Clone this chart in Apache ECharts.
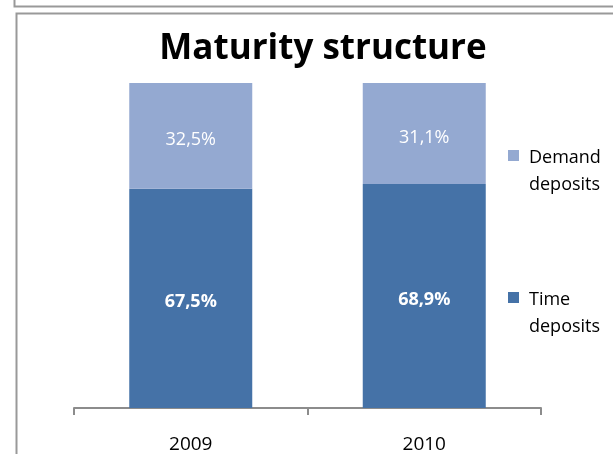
<!DOCTYPE html>
<html><head><meta charset="utf-8">
<script src="https://cdn.jsdelivr.net/npm/echarts@6/dist/echarts.min.js"></script>
<style>html,body{margin:0;padding:0;background:#fff}#c{width:613px;height:454px}</style>
</head><body><div id="c"></div>
<script>
const categories = ['2009', '2010'];
const timeDeposits = [67.5, 68.9];
const demandDeposits = [32.5, 31.1];
const seriesNames = ['Time\ndeposits', 'Demand\ndeposits'];

const fmt = v => v.toFixed(1).replace('.', ',') + '%';
const FONT = '"Open Sans", "Liberation Sans", sans-serif';

const chart = echarts.init(document.getElementById('c'), null, {renderer: 'canvas'});
chart.setOption({
  animation: false,
  backgroundColor: '#fff',
  title: {
    text: 'Maturity structure', left: 318, top: 27, textAlign: 'center',
    textStyle: {fontFamily: FONT, fontSize: 35, fontWeight: 'bold', color: '#000'}
  },
  grid: {left: 74, right: 72, top: 83, bottom: 45, containLabel: false},
  xAxis: {
    type: 'category', data: categories,
    axisLine: {lineStyle: {color: '#8c8c8c', width: 2}},
    axisTick: {show: true, length: 7, lineStyle: {color: '#8c8c8c', width: 2}},
    axisLabel: {color: '#000', fontSize: 19, fontFamily: FONT, margin: 27}
  },
  yAxis: {type: 'value', min: 0, max: 100, show: false, splitLine: {show: false}},
  legend: {show: false},
  series: [
    {name: seriesNames[0], type: 'bar', stack: 's', data: timeDeposits, barWidth: 123,
     itemStyle: {color: '#4572a7'},
     label: {show: true, position: 'inside', formatter: p => fmt(p.value), color: '#fff',
             fontSize: 18, fontWeight: 'bold', fontFamily: FONT, offset: [0, 4]}},
    {name: seriesNames[1], type: 'bar', stack: 's', data: demandDeposits, barWidth: 123,
     itemStyle: {color: '#94a9d1'},
     label: {show: true, position: 'inside', formatter: p => fmt(p.value), color: '#fff',
             fontSize: 18, fontFamily: FONT, offset: [0, 4]}}
  ],
  graphic: [
    {type: 'rect', shape: {x: 14.5, y: -10, width: 640, height: 16.5}, style: {fill: 'none', stroke: '#999', lineWidth: 2}},
    {type: 'rect', shape: {x: 16.5, y: 13.5, width: 640, height: 500}, style: {fill: 'none', stroke: '#999', lineWidth: 2}},
    {type: 'rect', shape: {x: 508, y: 150, width: 11, height: 11}, style: {fill: '#94a9d1'}},
    {type: 'text', x: 529, y: 144, style: {text: 'Demand\ndeposits', fontSize: 18, fontFamily: FONT, fill: '#000', lineHeight: 27}},
    {type: 'rect', shape: {x: 508, y: 292, width: 11, height: 11}, style: {fill: '#4572a7'}},
    {type: 'text', x: 529, y: 286, style: {text: 'Time\ndeposits', fontSize: 18, fontFamily: FONT, fill: '#000', lineHeight: 27}}
  ]
});
</script></body></html>
